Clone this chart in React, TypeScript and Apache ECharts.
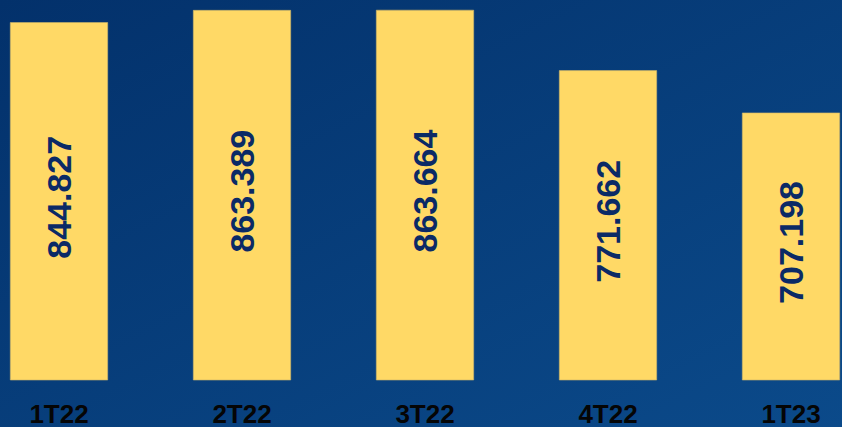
import React, { useEffect, useRef } from "react";
import * as echarts from "echarts";

const categories = ["1T22", "2T22", "3T22", "4T22", "1T23"];
const values = [844.827, 863.389, 863.664, 771.662, 707.198];
const valueLabels = ["844.827", "863.389", "863.664", "771.662", "707.198"];

export default function App() {
  const ref = useRef<HTMLDivElement>(null);
  useEffect(() => {
    if (!ref.current) return;
    const chart = echarts.init(ref.current, null, { renderer: "svg" });
    chart.setOption({
      animation: false,
      backgroundColor: new echarts.graphic.LinearGradient(0, 0, 1, 1, [
        { offset: 0, color: "#03316b" },
        { offset: 1, color: "#0b4a8a" },
      ]),
      grid: {
        left: -32.5,
        width: 915,
        top: 5.7,
        bottom: 47,
        outerBoundsMode: "none",
        containLabel: false,
      },
      xAxis: {
        type: "category",
        data: categories,
        axisLine: { show: false },
        axisTick: { show: false },
        axisLabel: {
          margin: 21,
          lineHeight: 25,
          color: "#050505",
          fontSize: 26,
          fontWeight: "bold",
          fontFamily: "'Liberation Sans Narrow', 'Liberation Sans', Arial, sans-serif",
        },
      },
      yAxis: {
        type: "value",
        min: 300,
        max: 870,
        show: false,
        splitLine: { show: false },
      },
      series: [
        {
          type: "bar",
          data: values,
          barWidth: 98,
          itemStyle: { color: "#FFD966", borderColor: "#c9b46a", borderWidth: 0.6 },
          label: {
            show: true,
            position: "inside",
            rotate: 90,
            offset: [4, 0],
            formatter: (p: any) => valueLabels[p.dataIndex],
            color: "#0b2a66",
            fontSize: 34,
            fontWeight: "bold",
            fontFamily: "'Liberation Sans', Arial, sans-serif",
          },
        },
      ],
    });
    return () => chart.dispose();
  }, []);
  return (
    <div
      ref={ref}
      style={{ position: "fixed", left: 0, top: 0, width: 842, height: 427 }}
    />
  );
}
